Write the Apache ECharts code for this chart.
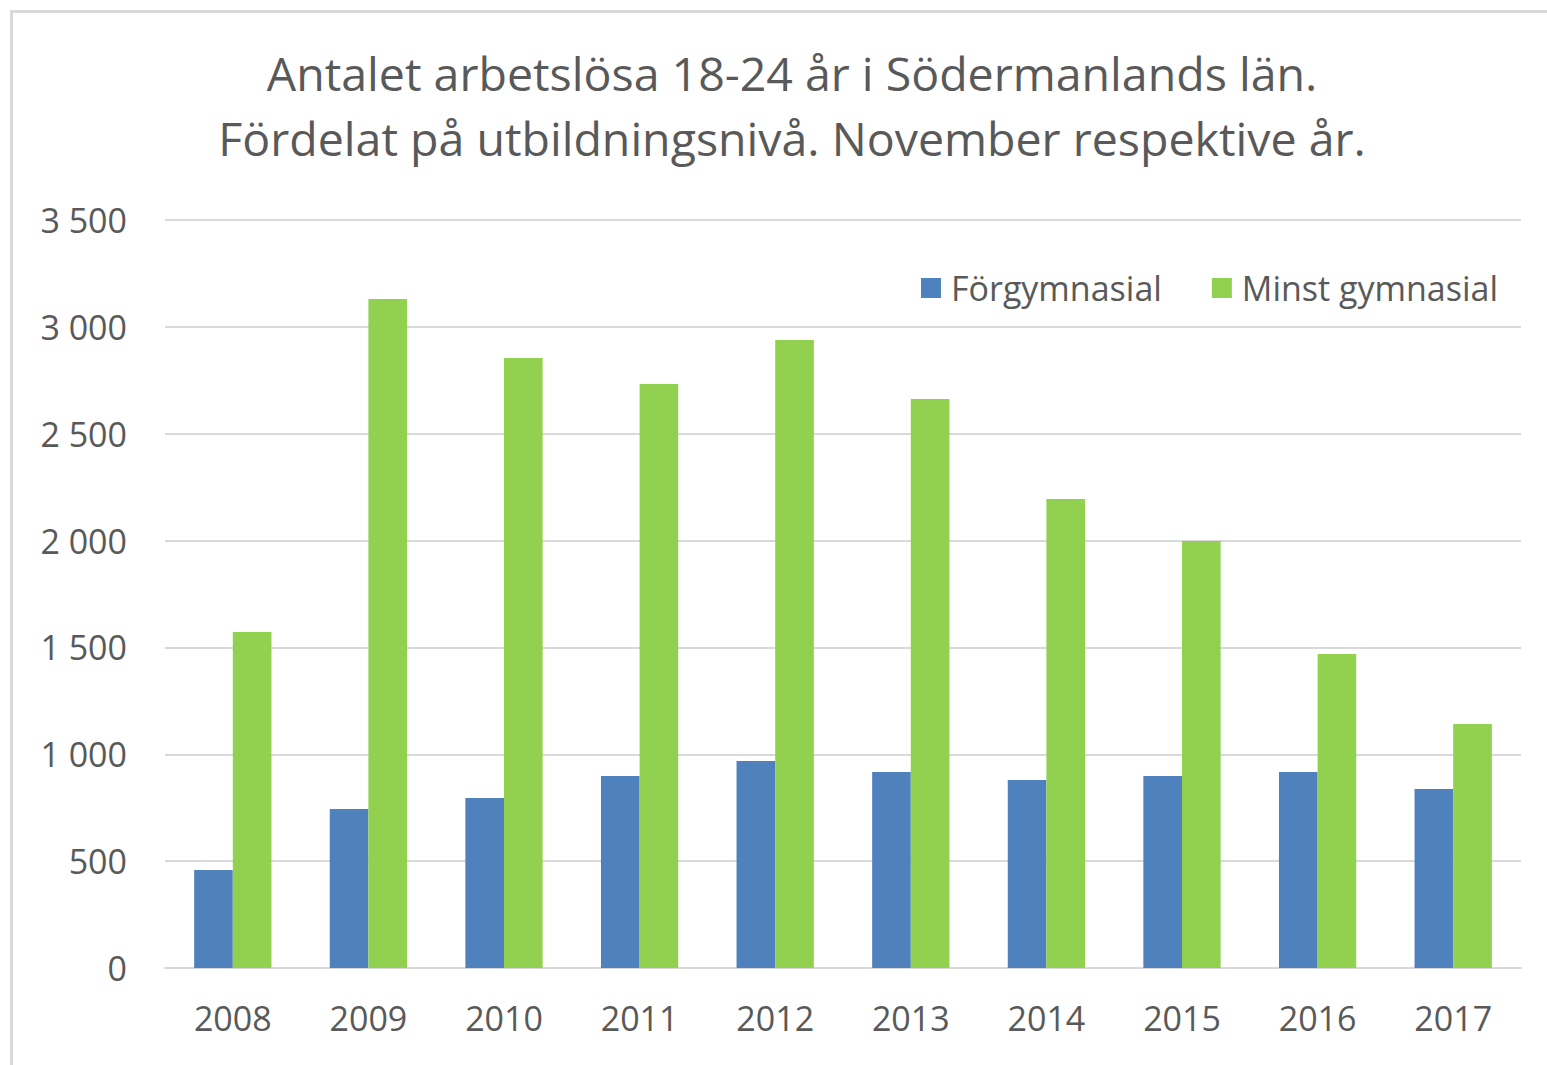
<!DOCTYPE html>
<html>
<head>
<meta charset="utf-8">
<script src="https://cdn.jsdelivr.net/npm/echarts@6/dist/echarts.min.js"></script>
<style>
  html, body { margin: 0; padding: 0; background: #fff; }
  #frame { position: absolute; left: 10px; top: 10px; width: 1537px; height: 1055px;
    border-left: 3px solid #d9d9d9; border-top: 3px solid #d9d9d9; box-sizing: border-box; }
  #chart { position: absolute; left: 0; top: 0; width: 1547px; height: 1065px; }
</style>
</head>
<body>
<div id="frame"></div>
<div id="chart"></div>
<script>
// Antalet arbetslösa 18-24 år, Södermanlands län
const years = ['2008', '2009', '2010', '2011', '2012', '2013', '2014', '2015', '2016', '2017'];
const forgymnasial = [458, 744, 795, 898, 969, 917, 880, 898, 917, 838];
const minstGymnasial = [1572, 3130, 2854, 2733, 2939, 2663, 2195, 1998, 1469, 1142];

const textColor = '#595959';
const fontFamily = '"Open Sans", "Noto Sans", sans-serif';

const chart = echarts.init(document.getElementById('chart'), null, { renderer: 'svg' });
chart.setOption({
  backgroundColor: 'transparent',
  animation: false,
  title: {
    text: 'Antalet arbetslösa 18-24 år i Södermanlands län.\nFördelat på utbildningsnivå. November respektive år.',
    left: 787, top: 35, textAlign: 'center',
    textStyle: { color: textColor, fontFamily, fontSize: 46.5, fontWeight: 'normal', lineHeight: 65 },
  },
  legend: {
    data: ['Förgymnasial', 'Minst gymnasial'],
    right: 44, top: 266,
    icon: 'rect', itemWidth: 20, itemHeight: 20, itemGap: 50,
    textStyle: { color: textColor, fontFamily, fontSize: 34, padding: [0, 0, 0, 5] },
  },
  grid: { left: 165, right: 26, top: 220, bottom: 97 },
  xAxis: {
    type: 'category',
    data: years,
    axisLine: { lineStyle: { color: '#d9d9d9', width: 2 } },
    axisTick: { show: false },
    axisLabel: { color: textColor, fontFamily, fontSize: 34, margin: 33 },
  },
  yAxis: {
    type: 'value',
    min: 0, max: 3500, interval: 500,
    axisLine: { show: false },
    axisTick: { show: false },
    axisLabel: {
      color: textColor, fontFamily, fontSize: 34, margin: 38,
      formatter: (v) => String(v).replace(/\B(?=(\d{3})+(?!\d))/g, ' '),
    },
    splitLine: { lineStyle: { color: '#d9d9d9', width: 2 } },
  },
  series: [
    { name: 'Förgymnasial', type: 'bar', data: forgymnasial, itemStyle: { color: '#4f81bd' }, barGap: '0%', barCategoryGap: '43%' },
    { name: 'Minst gymnasial', type: 'bar', data: minstGymnasial, itemStyle: { color: '#92d050' }, barGap: '0%', barCategoryGap: '43%' },
  ],
});
</script>
</body>
</html>
